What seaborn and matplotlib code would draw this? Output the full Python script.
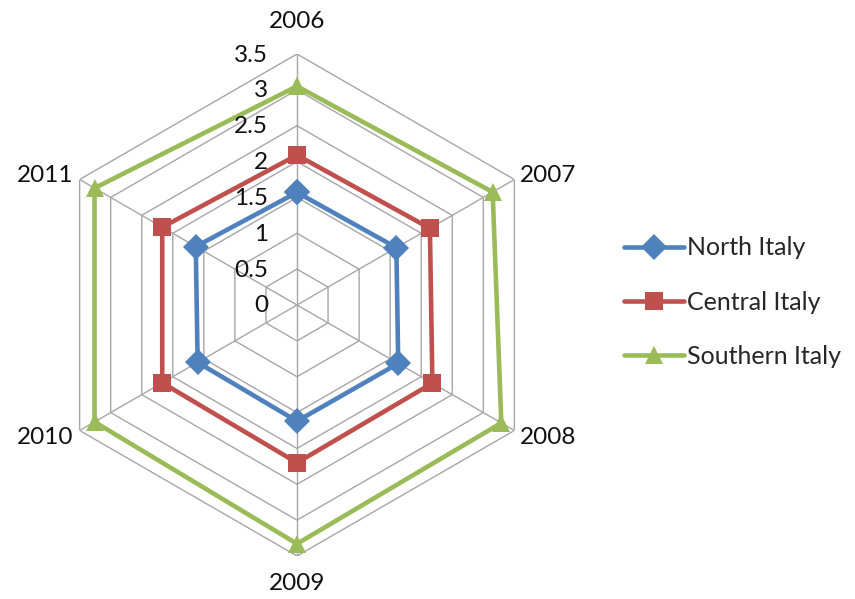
import numpy as np
import pandas as pd
import matplotlib
matplotlib.use("Agg")
import matplotlib.pyplot as plt
import matplotlib.transforms as mtransforms
import seaborn as sns

years = ["2006", "2007", "2008", "2009", "2010", "2011"]
north = [1.57, 1.60, 1.63, 1.62, 1.60, 1.63]
central = [2.09, 2.14, 2.18, 2.20, 2.17, 2.17]
southern = [3.05, 3.15, 3.29, 3.33, 3.26, 3.26]
series_names = ["North Italy", "Central Italy", "Southern Italy"]
ring_values = [0, 0.5, 1, 1.5, 2, 2.5, 3, 3.5]
ring_labels = ["0", "0.5", "1", "1.5", "2", "2.5", "3", "3.5"]

colors = {"North Italy": "#4F81BD", "Central Italy": "#C0504D", "Southern Italy": "#9BBB59"}
markers = {"North Italy": "D", "Central Italy": "s", "Southern Italy": "^"}

sns.set_theme(style="white")
plt.rcParams["font.family"] = ["Lato", "DejaVu Sans"]

n = len(years)
theta = np.linspace(0, 2 * np.pi, n, endpoint=False)
theta_closed = np.append(theta, 2 * np.pi)

rows = []
for name, vals in zip(series_names, [north, central, southern]):
    closed = list(vals) + [vals[0]]
    for t, v in zip(theta_closed, closed):
        rows.append({"theta": t, "value": v, "region": name})
df = pd.DataFrame(rows)

fig = plt.figure(figsize=(8.55, 5.99), dpi=100)
cx, cy, rad = 297, 599 - 305, 251
ax = fig.add_axes([(cx - rad) / 855, (cy - rad) / 599, 2 * rad / 855, 2 * rad / 599],
                  projection="polar")
ax.set_theta_zero_location("N")
ax.set_theta_direction(-1)
ax.set_ylim(0, 3.5)
ax.grid(False)
ax.set_xticks([])
ax.set_yticks([])
ax.spines["polar"].set_visible(False)
ax.patch.set_alpha(0)

grid_color = "#A6A6A6"
# hexagonal rings
for r in ring_values[1:]:
    ax.plot(theta_closed, [r] * (n + 1), color=grid_color, lw=1.0, zorder=1)
# spokes
for t in theta:
    ax.plot([t, t], [0, 3.5], color=grid_color, lw=1.0, zorder=1)

sns.lineplot(data=df, x="theta", y="value", hue="region", style="region",
             hue_order=series_names, style_order=series_names,
             palette=colors, markers=markers, dashes=False, sort=False,
             lw=3.3, markersize=13.5, markeredgewidth=0, legend=False, ax=ax, zorder=3)
ax.set_xlabel("")
ax.set_ylabel("")
ax.set_ylim(0, 3.5)

# radial value labels along the first spoke
for r, lab in zip(ring_values, ring_labels):
    tr = mtransforms.offset_copy(ax.transData, fig=fig, x=-29, y=-1, units="dots")
    ax.text(0, r, lab, transform=tr, ha="right", va="center", fontsize=17.5, color="#111111")

# category labels around the outer ring
offsets = [(0, 32, "center"), (6, 4, "left"), (6, -7, "left"),
           (0, -28, "center"), (-6, -7, "right"), (-6, 4, "right")]
for t, lab, (dx, dy, ha) in zip(theta, years, offsets):
    tr = mtransforms.offset_copy(ax.transData, fig=fig, x=dx, y=dy, units="dots")
    ax.text(t, 3.5, lab, transform=tr, ha=ha, va="center", fontsize=17.5, color="#111111")

handles = ax.lines[-3:]
for h, name in zip(handles, series_names):
    h.set_label(name)
fig.legend(handles=handles, labels=series_names, loc="center left",
           bbox_to_anchor=(601 / 855, 1 - 302 / 599), frameon=False,
           fontsize=18, handlelength=2.4, handletextpad=0.15, labelspacing=1.25,
           markerscale=0.95)

fig.savefig("out.png", dpi=100, facecolor="white")
